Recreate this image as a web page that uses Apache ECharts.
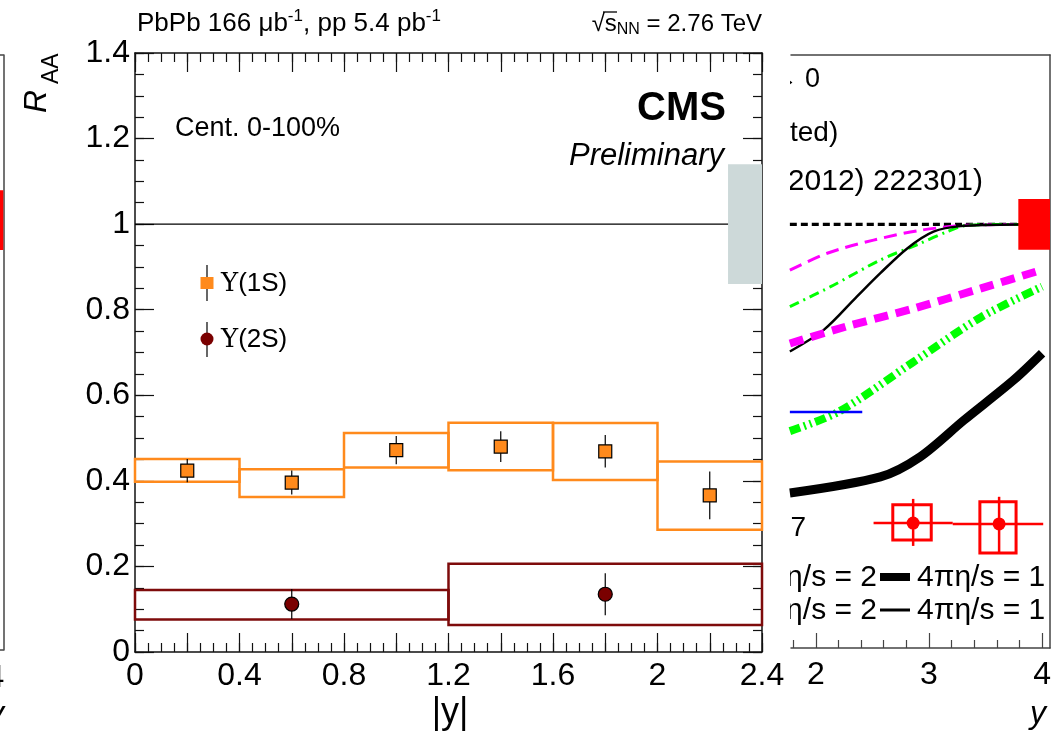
<!DOCTYPE html>
<html>
<head>
<meta charset="utf-8">
<script src="https://cdn.jsdelivr.net/npm/echarts@6/dist/echarts.min.js"></script>
<style>
  html, body { margin: 0; padding: 0; background: #fff; }
  #chart { width: 1052px; height: 734px; }
</style>
</head>
<body>
<div id="chart"></div>
<script>
const FONT = '"Liberation Sans", Arial, Helvetica, sans-serif';

// main panel: Upsilon R_AA vs |y|
const ups1sBins = [[0, 0.4], [0.4, 0.8], [0.8, 1.2], [1.2, 1.6], [1.6, 2.0], [2.0, 2.4]];
const ups1sY = [0.2, 0.6, 1.0, 1.4, 1.8, 2.2];
const ups1sRaa = [0.424, 0.396, 0.472, 0.48, 0.469, 0.366];
const ups1sStat = [0.027, 0.028, 0.033, 0.036, 0.038, 0.056];
const ups1sSystLo = [0.398, 0.362, 0.431, 0.425, 0.402, 0.286];
const ups1sSystHi = [0.451, 0.427, 0.512, 0.536, 0.535, 0.445];

const ups2sBins = [[0, 1.2], [1.2, 2.4]];
const ups2sY = [0.6, 1.8];
const ups2sRaa = [0.112, 0.135];
const ups2sStat = [0.035, 0.049];
const ups2sSystLo = [0.076, 0.063];
const ups2sSystHi = [0.145, 0.206];

const unityLine = [[0, 1], [2.4, 1]];
const globalBox = [2.27, 2.4, 0.86, 1.14];

// neighbour panel on the right (mostly hidden behind the main one)
const rightDashedOne = [[1.77, 1], [4.07, 1]];
const rightMagentaThin = [[1.77, 0.892], [2.10, 0.932], [2.51, 0.963], [2.92, 0.986], [3.34, 0.998], [3.80, 1.0]];
const rightGreenThin = [[1.77, 0.806], [2.13, 0.853], [2.57, 0.916], [2.92, 0.955], [3.16, 0.983], [3.34, 0.998], [3.80, 1.0]];
const rightBlackThin = [[1.77, 0.700], [2.07, 0.751], [2.36, 0.829], [2.57, 0.885], [2.81, 0.944], [3.04, 0.983], [3.28, 0.996], [3.80, 1.0]];
const rightMagentaThick = [[1.77, 0.719], [2.27, 0.759], [2.87, 0.802], [3.46, 0.849], [4.0, 0.893]];
const rightGreenThick = [[1.77, 0.512], [2.21, 0.559], [2.86, 0.675], [3.46, 0.781], [4.0, 0.853]];
const rightBlackThick = [[1.77, 0.366], [2.57, 0.404], [2.92, 0.451], [3.31, 0.538], [3.75, 0.633], [4.0, 0.696]];
const rightBlue = [[1.77, 0.557], [2.41, 0.557]];
const rightRedX = [2.86, 3.62];
const rightRedY = [0.295, 0.293];
const rightRedBins = [[2.51, 3.21], [3.21, 4.01]];
const rightRedStatLo = [0.241, 0.222];
const rightRedStatHi = [0.352, 0.357];
const rightRedBoxX = [[2.68, 3.02], [3.45, 3.77]];
const rightRedBoxY = [[0.255, 0.338], [0.224, 0.345]];
const rightNormBox = [3.79, 4.07, 0.94, 1.06];
const rightMajorTicks = [2, 3, 4];
const rightMinorTicks = [1.8, 2.2, 2.4, 2.6, 2.8, 3.2, 3.4, 3.6, 3.8];

// neighbour panel on the left (only its right edge shows)
const leftNormBox = [3.79, 4.07, 0.941, 1.082];
const leftMajorTicks = [3, 4];

const ORANGE = '#ff8a1c';
const DARKRED = '#7e0b0b';
const LBL = 32;

const chart = echarts.init(document.getElementById('chart'));

function boxSeries(data, xi, yi, style, z) {
  return {
    type: 'custom', xAxisIndex: xi, yAxisIndex: yi, z, silent: true,
    data, encode: { x: [0, 1], y: [2, 3] },
    renderItem: (params, api) => {
      const a = api.coord([api.value(0), api.value(3)]);
      const b = api.coord([api.value(1), api.value(2)]);
      return { type: 'rect', shape: { x: a[0], y: a[1], width: b[0] - a[0], height: b[1] - a[1] }, style };
    }
  };
}

function errSeries(data, xi, yi, color, width, z) {
  // [x, ylo, yhi, xlo, xhi, y]
  return {
    type: 'custom', xAxisIndex: xi, yAxisIndex: yi, z, silent: true,
    data, encode: { x: 0, y: [1, 2] },
    renderItem: (params, api) => {
      const a = api.coord([api.value(0), api.value(1)]);
      const b = api.coord([api.value(0), api.value(2)]);
      const kids = [{ type: 'line', shape: { x1: a[0], y1: a[1], x2: b[0], y2: b[1] }, style: { stroke: color, lineWidth: width } }];
      if (api.value(3) != null && !isNaN(api.value(3))) {
        const c = api.coord([api.value(3), api.value(5)]);
        const d = api.coord([api.value(4), api.value(5)]);
        kids.push({ type: 'line', shape: { x1: c[0], y1: c[1], x2: d[0], y2: d[1] }, style: { stroke: color, lineWidth: width } });
      }
      return { type: 'group', children: kids };
    }
  };
}

function curve(data, color, width, type, z) {
  return {
    type: 'line', xAxisIndex: 4, yAxisIndex: 3, data, symbol: 'none', smooth: 0.3,
    z: z || 3, silent: true, lineStyle: { color, width, type, cap: 'butt' }
  };
}

// tick-only overlay axis (ROOT style ticks inside the frame)
function tickAxis(grid, pos, max, interval, len) {
  return {
    gridIndex: grid, type: 'value', min: 0, max, interval, position: pos,
    axisLine: { show: false, onZero: false },
    axisTick: { show: true, inside: true, length: len, lineStyle: { color: '#111', width: 1.2 } },
    splitLine: { show: false }, axisLabel: { show: false }
  };
}

const fmt = (v) => String(+v.toFixed(1));
const frameMain = { onZero: false, lineStyle: { color: '#111', width: 1.5 } };
const frameSide = { show: true, onZero: false, lineStyle: { color: '#444', width: 1.5 } };

const option = {
  animation: false,
  backgroundColor: '#fff',
  grid: [
    { left: 135, right: 290, top: 53, bottom: 82, outerBoundsMode: 'none', containLabel: false },
    { left: -150, right: 1048.7, top: 55, bottom: 84, outerBoundsMode: 'none', containLabel: false },
    { left: 791, right: 2, top: 55, bottom: 86, outerBoundsMode: 'none', containLabel: false }
  ],
  xAxis: [
    { // 0 main bottom
      gridIndex: 0, type: 'value', min: 0, max: 2.4, interval: 0.2, position: 'bottom',
      axisLine: frameMain,
      axisTick: { inside: true, length: 19, lineStyle: { color: '#111', width: 1.2 } },
      splitLine: { show: false },
      axisLabel: {
        color: '#000', fontFamily: FONT, fontSize: LBL, margin: 8,
        formatter: (v) => (Math.round(v * 10) % 4 === 0 ? fmt(v) : '')
      }
    },
    { // 1 main top
      gridIndex: 0, type: 'value', min: 0, max: 2.4, interval: 0.2, position: 'top',
      axisLine: frameMain,
      axisTick: { inside: true, length: 19, lineStyle: { color: '#111', width: 1.2 } },
      splitLine: { show: false }, axisLabel: { show: false }
    },
    { // 2 left panel bottom
      gridIndex: 1, type: 'value', min: 2.71, max: 4.07, position: 'bottom',
      axisLine: frameSide,
      axisTick: { show: false }, splitLine: { show: false },
      axisLabel: { customValues: leftMajorTicks, color: '#000', fontFamily: FONT, fontSize: LBL, margin: 12 }
    },
    { // 3 left panel top
      gridIndex: 1, type: 'value', min: 2.71, max: 4.07, position: 'top',
      axisLine: frameSide,
      axisTick: { show: false }, splitLine: { show: false }, axisLabel: { show: false }
    },
    { // 4 right panel bottom, major
      gridIndex: 2, type: 'value', min: 1.78, max: 4.07, position: 'bottom',
      axisLine: frameSide,
      axisTick: { inside: true, length: 15, customValues: rightMajorTicks, lineStyle: { color: '#444', width: 1.2 } },
      splitLine: { show: false },
      axisLabel: { customValues: rightMajorTicks, color: '#000', fontFamily: FONT, fontSize: LBL, margin: 11 }
    },
    { // 5 right panel bottom, minor ticks
      gridIndex: 2, type: 'value', min: 1.78, max: 4.07, position: 'bottom',
      axisLine: { show: false, onZero: false },
      axisTick: { inside: true, length: 8, customValues: rightMinorTicks, lineStyle: { color: '#444', width: 1.2 } },
      splitLine: { show: false }, axisLabel: { show: false }
    },
    { // 6 right panel top
      gridIndex: 2, type: 'value', min: 1.78, max: 4.07, position: 'top',
      axisLine: frameSide,
      axisTick: { show: false }, splitLine: { show: false }, axisLabel: { show: false }
    },
    tickAxis(0, 'bottom', 2.4, 0.05, 9), // 7 main bottom minor
    tickAxis(0, 'top', 2.4, 0.05, 9)     // 8 main top minor
  ],
  yAxis: [
    { // 0 main left
      gridIndex: 0, type: 'value', min: 0, max: 1.4, interval: 0.2, position: 'left',
      axisLine: Object.assign({ show: true }, frameMain),
      axisTick: { show: true, inside: true, length: 19, lineStyle: { color: '#111', width: 1.2 } },
      splitLine: { show: false },
      axisLabel: { color: '#000', fontFamily: FONT, fontSize: LBL, margin: 5, formatter: fmt }
    },
    { // 1 main right
      gridIndex: 0, type: 'value', min: 0, max: 1.4, interval: 0.2, position: 'right',
      axisLine: Object.assign({ show: true }, frameMain),
      axisTick: { show: true, inside: true, length: 19, lineStyle: { color: '#111', width: 1.2 } },
      splitLine: { show: false }, axisLabel: { show: false }
    },
    { // 2 left panel
      gridIndex: 1, type: 'value', min: 0, max: 1.4, position: 'right',
      axisLine: frameSide,
      axisTick: { show: false }, splitLine: { show: false }, axisLabel: { show: false }
    },
    { // 3 right panel
      gridIndex: 2, type: 'value', min: 0, max: 1.4, position: 'right',
      axisLine: frameSide,
      axisTick: { show: false }, splitLine: { show: false }, axisLabel: { show: false }
    },
    tickAxis(0, 'left', 1.4, 0.05, 9),  // 4 main left minor
    tickAxis(0, 'right', 1.4, 0.05, 9)  // 5 main right minor
  ],
  series: [
    // ---- main panel ----
    {
      type: 'line', xAxisIndex: 0, yAxisIndex: 0, data: unityLine, symbol: 'none', silent: true, z: 1,
      lineStyle: { color: '#000', width: 1.2 }
    },
    boxSeries([globalBox], 0, 0, { fill: '#cdd9d9', stroke: 'none' }, 2),
    boxSeries(ups1sBins.map((b, i) => [b[0], b[1], ups1sSystLo[i], ups1sSystHi[i]]), 0, 0,
      { fill: 'none', stroke: ORANGE, lineWidth: 2.5 }, 3),
    boxSeries(ups2sBins.map((b, i) => [b[0], b[1], ups2sSystLo[i], ups2sSystHi[i]]), 0, 0,
      { fill: 'none', stroke: DARKRED, lineWidth: 2.5 }, 3),
    errSeries(ups1sY.map((x, i) => [x, ups1sRaa[i] - ups1sStat[i], ups1sRaa[i] + ups1sStat[i]]), 0, 0, '#000', 1.2, 4),
    errSeries(ups2sY.map((x, i) => [x, ups2sRaa[i] - ups2sStat[i], ups2sRaa[i] + ups2sStat[i]]), 0, 0, '#000', 1.2, 4),
    {
      type: 'scatter', xAxisIndex: 0, yAxisIndex: 0, z: 5, silent: true,
      data: ups1sY.map((x, i) => [x, ups1sRaa[i]]),
      symbol: 'rect', symbolSize: [13, 13],
      itemStyle: { color: ORANGE, borderColor: '#000', borderWidth: 1.2, opacity: 1 }
    },
    {
      type: 'scatter', xAxisIndex: 0, yAxisIndex: 0, z: 5, silent: true,
      data: ups2sY.map((x, i) => [x, ups2sRaa[i]]),
      symbol: 'circle', symbolSize: 14,
      itemStyle: { color: '#7a0000', borderColor: '#000', borderWidth: 1.2, opacity: 1 }
    },
    // ---- left panel ----
    boxSeries([leftNormBox], 2, 2, { fill: '#ff0000', stroke: 'none' }, 3),
    // ---- right panel ----
    curve(rightDashedOne, '#000', 3.2, [7, 4], 2),
    curve(rightMagentaThin, '#ff00ff', 3, [13, 7]),
    curve(rightGreenThin, '#00ff00', 3, [10, 5, 2, 5]),
    curve(rightBlackThin, '#000', 2.5, 'solid'),
    curve(rightMagentaThick, '#ff00ff', 8, [14, 8]),
    curve(rightGreenThick, '#00ff00', 8, [11, 4, 2, 4, 2, 4]),
    curve(rightBlackThick, '#000', 9, 'solid'),
    curve(rightBlue, '#0000ff', 2.5, 'solid'),
    boxSeries([rightNormBox], 4, 3, { fill: '#ff0000', stroke: 'none' }, 6),
    boxSeries(rightRedBoxX.map((b, i) => [b[0], b[1], rightRedBoxY[i][0], rightRedBoxY[i][1]]), 4, 3,
      { fill: 'none', stroke: '#ff0000', lineWidth: 3 }, 6),
    errSeries(rightRedX.map((x, i) => [x, rightRedStatLo[i], rightRedStatHi[i], rightRedBins[i][0], rightRedBins[i][1], rightRedY[i]]),
      4, 3, '#ff0000', 2.5, 6),
    {
      type: 'scatter', xAxisIndex: 4, yAxisIndex: 3, z: 7, silent: true,
      data: rightRedX.map((x, i) => [x, rightRedY[i]]),
      symbol: 'circle', symbolSize: 13, itemStyle: { color: '#ff0000', opacity: 1 }
    }
  ],
  graphic: [
    // texts of the right panel, partly hidden behind the main panel
    { type: 'text', z: 50, x: 820, y: 80, style: { text: '→ 0', font: '27px ' + FONT, fill: '#000', align: 'right', verticalAlign: 'middle' } },
    { type: 'text', z: 50, x: 790, y: 133, style: { text: 'ted)', font: '28px ' + FONT, fill: '#000', align: 'left', verticalAlign: 'middle' } },
    { type: 'text', z: 50, x: 983, y: 182, style: { text: '(2012) 222301)', font: '30px ' + FONT, fill: '#000', align: 'right', verticalAlign: 'middle' } },
    { type: 'text', z: 50, x: 806, y: 528, style: { text: '2.7', font: '28px ' + FONT, fill: '#000', align: 'right', verticalAlign: 'middle' } },
    { type: 'text', z: 50, x: 877, y: 578, style: { text: 'πη/s = 2', font: '30px ' + FONT, fill: '#000', align: 'right', verticalAlign: 'middle' } },
    { type: 'line', z: 50, shape: { x1: 880, y1: 577, x2: 910, y2: 577 }, style: { stroke: '#000', lineWidth: 8 } },
    { type: 'text', z: 50, x: 917, y: 578, style: { text: '4πη/s = 1', font: '30px ' + FONT, fill: '#000', align: 'left', verticalAlign: 'middle' } },
    { type: 'text', z: 50, x: 877, y: 611, style: { text: 'πη/s = 2', font: '30px ' + FONT, fill: '#000', align: 'right', verticalAlign: 'middle' } },
    { type: 'line', z: 50, shape: { x1: 880, y1: 610, x2: 910, y2: 610 }, style: { stroke: '#000', lineWidth: 3 } },
    { type: 'text', z: 50, x: 917, y: 611, style: { text: '4πη/s = 1', font: '30px ' + FONT, fill: '#000', align: 'left', verticalAlign: 'middle' } },
    { type: 'text', z: 50, x: 1038, y: 714, style: { text: 'y', font: 'italic 32px ' + FONT, fill: '#000', align: 'center', verticalAlign: 'middle' } },
    { type: 'text', z: 50, x: -4, y: 714, style: { text: 'y', font: 'italic 32px ' + FONT, fill: '#000', align: 'center', verticalAlign: 'middle' } },
    // white gap between main frame and right panel
    { type: 'rect', z: 60, shape: { x: 764, y: 60, width: 26, height: 145 }, style: { fill: '#fff' } },
    { type: 'rect', z: 60, shape: { x: 764, y: 505, width: 26, height: 125 }, style: { fill: '#fff' } },

    // main panel labels
    {
      type: 'text', z: 50, x: 137, y: 24,
      style: {
        text: 'PbPb 166 μb{sup|-1}, pp 5.4 pb{sup|-1}', fontFamily: FONT, fontSize: 26, fill: '#000',
        align: 'left', verticalAlign: 'middle',
        rich: { sup: { fontFamily: FONT, fontSize: 17, padding: [0, 0, 15, 0] } }
      }
    },
    {
      type: 'text', z: 50, x: 762, y: 24,
      style: {
        text: '√s{sub|NN} = 2.76 TeV', fontFamily: FONT, fontSize: 24, fill: '#000',
        align: 'right', verticalAlign: 'middle',
        rich: { sub: { fontFamily: FONT, fontSize: 16, padding: [12, 0, 0, 0] } }
      }
    },
    { type: 'line', z: 50, shape: { x1: 603, y1: 12, x2: 617, y2: 12 }, style: { stroke: '#000', lineWidth: 1.3 } },
    { type: 'text', z: 50, x: 175, y: 129, style: { text: 'Cent. 0-100%', font: '27px ' + FONT, fill: '#000', align: 'left', verticalAlign: 'middle' } },
    { type: 'text', z: 50, x: 726, y: 109, style: { text: 'CMS', font: 'bold 40px ' + FONT, fill: '#000', align: 'right', verticalAlign: 'middle' } },
    { type: 'text', z: 50, x: 724, y: 156, style: { text: 'Preliminary', font: 'italic 31px ' + FONT, fill: '#000', align: 'right', verticalAlign: 'middle' } },
    // legend
    { type: 'line', z: 50, shape: { x1: 207, y1: 265, x2: 207, y2: 301 }, style: { stroke: '#000', lineWidth: 1.2 } },
    { type: 'rect', z: 51, shape: { x: 200.5, y: 277, width: 13, height: 12 }, style: { fill: ORANGE } },
    {
      type: 'text', z: 50, x: 221, y: 284,
      style: { text: '{u|Υ}(1S)', fontFamily: FONT, fontSize: 26, fill: '#000', align: 'left', verticalAlign: 'middle',
        rich: { u: { fontFamily: '"DejaVu Serif", serif', fontSize: 26 } } }
    },
    { type: 'line', z: 50, shape: { x1: 207, y1: 322, x2: 207, y2: 357 }, style: { stroke: '#000', lineWidth: 1.2 } },
    { type: 'circle', z: 51, shape: { cx: 207, cy: 339, r: 6.5 }, style: { fill: '#7a0000' } },
    {
      type: 'text', z: 50, x: 221, y: 340,
      style: { text: '{u|Υ}(2S)', fontFamily: FONT, fontSize: 26, fill: '#000', align: 'left', verticalAlign: 'middle',
        rich: { u: { fontFamily: '"DejaVu Serif", serif', fontSize: 26 } } }
    },
    // axis titles
    { type: 'text', z: 50, x: 37, y: 113, rotation: Math.PI / 2, style: { text: 'R', font: 'italic 32px ' + FONT, fill: '#000', align: 'left', verticalAlign: 'middle' } },
    { type: 'text', z: 50, x: 52, y: 84, rotation: Math.PI / 2, style: { text: 'AA', font: '23px ' + FONT, fill: '#000', align: 'left', verticalAlign: 'middle' } },
    { type: 'text', z: 50, x: 450, y: 713, style: { text: '|y|', font: '36px ' + FONT, fill: '#000', align: 'center', verticalAlign: 'middle' } }
  ]
};

chart.setOption(option);
</script>
</body>
</html>
